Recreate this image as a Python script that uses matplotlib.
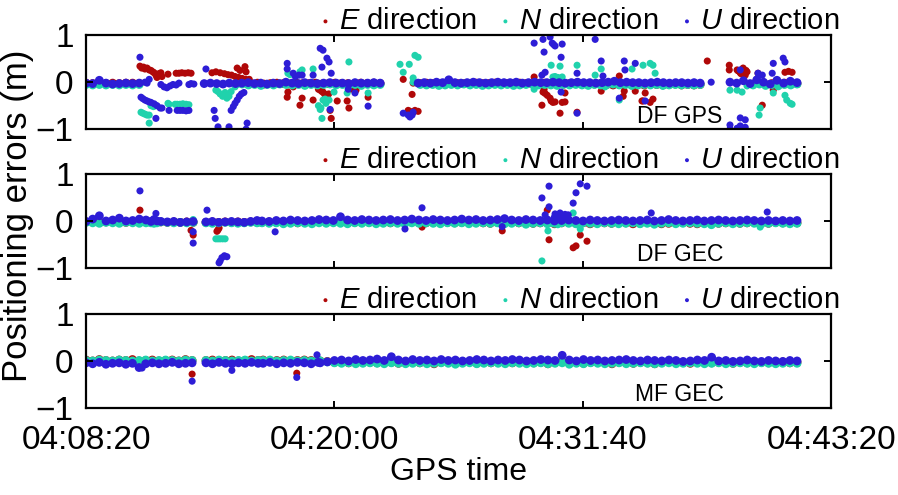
import numpy as np
import matplotlib
matplotlib.use('Agg')
import matplotlib.pyplot as plt

plt.rcParams['font.family'] = ['Liberation Sans', 'DejaVu Sans']
plt.rcParams['mathtext.fontset'] = 'custom'
plt.rcParams['mathtext.rm'] = 'Liberation Sans'
plt.rcParams['mathtext.it'] = 'Liberation Sans:italic'

# x axis: seconds after 04:08:20 GPS time
tick_secs = [0, 700, 1400, 2100]
tick_labels = ['04:08:20', '04:20:00', '04:31:40', '04:43:20']
panel_names = ['DF GPS', 'DF GEC', 'MF GEC']
directions = ['E', 'N', 'U']
colors = ['#b00808', '#20d2ac', '#2d1dd6']

# ---- DF GPS ----
# arcs = (start s, end s) of the dense band, band = values along the arc in cm
gps_E_arcs = [(0, 150), (465, 829), (942, 1731), (1880, 2004)]
gps_E_band = [[-2, -3, -2, -3, -2, -3, -2, -2, -3],
              [-3, -2, -4, -3, -2, -3, -4, -2, -3, -3, -2, -4, -3, -2, -3, -3, -4, -2, -3, -2, -3],
              [-3, -2, -3, -4, -3, -2, -3, -3, -4, -2, -3, -3, -2, -4, -3, -3, -2, -3, -4, -3, -2, -3, -3,
               -4, -3, -2, -3, -5, -4, -3, -5, -6, -5, -4, -6, -5, -6, -4, -5, -6, -5, -4, -6, -5, -6, -5],
              [-4, -2, -5, -3, -6, -2, -4, -3]]
gps_E_t = [152, 157, 162, 166, 172, 178, 183, 188, 192, 197, 200, 205, 211, 214, 231, 254, 262, 270, 279, 288, 296,
           355, 366, 378, 390, 400, 410, 420, 430, 440, 450, 460, 426, 434, 448, 451,
           567, 569, 584, 609, 603, 640, 655, 660, 665, 668, 672, 676, 679, 684, 688, 691, 708, 736, 741, 745, 761, 795,
           894, 922, 919, 908, 913, 922, 927, 936,
           1263, 1288, 1291, 1294, 1300, 1308, 1311, 1316, 1322, 1342, 1350, 1285, 1336, 1350, 1384,
           1452, 1503, 1517, 1514, 1548, 1567, 1576, 1598, 1590, 1570, 1751,
           1813, 1813, 1835, 1838, 1844, 1846, 1852, 1855, 1858, 1860, 1863, 1894, 1970, 1980, 1990, 1937, 1906]
gps_E_v = [0.34, 0.30, 0.32, 0.28, 0.30, 0.26, 0.25, 0.22, 0.20, 0.15, 0.10, 0.18, 0.20, 0.12, 0.17, 0.19, 0.19, 0.20,
           0.19, 0.20, 0.19,
           0.20, 0.22, 0.20, 0.18, 0.16, 0.15, 0.12, 0.10, 0.08, 0.06, 0.06, 0.30, 0.25, 0.33, 0.22,
           -0.32, -0.21, -0.10, -0.34, -0.49, -0.38, -0.15, -0.17, -0.20, -0.21, -0.25, -0.30, -0.28, -0.25, -0.60,
           -0.77, -0.40, -0.40, -0.55, -0.15, -0.17, -0.32,
           0.06, -0.02, -0.26, -0.60, -0.62, -0.64, -0.60, -0.62,
           0.11, -0.21, -0.15, -0.24, -0.28, -0.34, -0.40, -0.43, -0.42, -0.43, -0.42, -0.49, -0.66, -0.23, -0.64,
           -0.19, 0.13, -0.19, -0.30, -0.19, -0.40, -0.23, -0.36, -0.43, -0.40, 0.45,
           0.36, 0.26, 0.26, 0.24, 0.20, 0.18, 0.30, 0.17, 0.15, 0.25, 0.22, 0.19, 0.21, 0.23, 0.21, -0.17, -0.49]

gps_N_arcs = [(0, 150), (440, 829), (942, 1731), (1880, 2004)]
gps_N_band = [[-5, -6, -5, -6, -5, -6, -5, -6, -5],
              [-4, -6, -5, -7, -5, -6, -4, -5, -6, -5, -7, -5, -6, -5, -4, -6, -5, -6, -5, -7, -5, -6, -5],
              [-5, -6, -5, -7, -6, -5, -6, -4, -6, -5, -7, -6, -5, -6, -5, -7, -6, -5, -4, -6, -5, -6, -7,
               -5, -6, -5, -6, -7, -5, -6, -5, -4, -6, -5, -7, -6, -5, -6, -5, -7, -6, -5, -6, -5, -6, -5],
              [-6, -4, -7, -5, -8, -5, -6, -4]]
gps_N_t = [155, 160, 166, 172, 178, 178, 183, 190, 197, 231, 234, 251, 257, 265, 273, 282, 290,
           366, 372, 378, 385, 392, 397, 403, 409, 420, 426, 434,
           569, 575, 603, 609, 640, 741, 699, 655, 662, 668, 674, 676, 685, 660, 665, 736, 795,
           885, 911, 927, 936, 894, 922, 922,
           1311, 1336, 1384, 1263, 1316, 1322, 1330, 1342,
           1452, 1435, 1539, 1503, 1463,
           1570, 1590, 1598, 1604, 1815, 1835, 1849, 1863, 1937, 1970, 1975, 1985, 1990, 1900, 1897]
gps_N_v = [-0.64, -0.66, -0.68, -0.70, -0.70, -0.87, -0.50, -0.52, -0.50, -0.45, -0.47, -0.47, -0.47, -0.47, -0.46,
           -0.47, -0.48,
           -0.17, -0.20, -0.25, -0.30, -0.22, -0.34, -0.30, -0.20, -0.10, -0.05, -0.03,
           0.19, 0.16, 0.22, 0.26, 0.28, 0.43, -0.21, -0.50, -0.55, -0.38, -0.36, -0.45, -0.38, -0.58, -0.77,
           -0.23, -0.23,
           0.38, 0.38, 0.57, 0.53, 0.21, 0.09, 0.00,
           0.36, 0.34, 0.36, -0.15, 0.11, 0.12, 0.10, 0.11,
           0.28, 0.15, 0.28, -0.38, -0.10,
           0.36, 0.40, 0.36, 0.19, -0.17, -0.17, -0.21, -0.08, -0.23, -0.28, -0.38, -0.45, -0.47, -0.55, -0.70]

gps_U_arcs = [(0, 150), (333, 829), (936, 1731), (1815, 2004)]
gps_U_band = [[-2, -3, 4, -2, -4, -3, -2, -3, -2],
              [-3, -2, -3, -4, -2, -3, -2, -1, -3, -2, -4, -2, -3, 0, -2, -3, -1, -2, -3, -2, -1, -2, -2, -3,
               -1, -2, -2, -1, -2],
              [-2, -1, -2, 0, -1, 5, -1, -2, -1, 0, -1, -2, -1, 0, -1, -1, 0, -2, -1, 0, -1, -1, 0, -1, -2,
               -1, 0, -1, -1, -2, -1, 0, 2, -1, 0, -1, -1, -2, -1, 0, -1, -2, -1, -1, -2, -1, -2],
              [0, -2, 3, -3, 5, 0, -4, 4, -2, 2, -1]]
gps_U_t = [152, 178, 155, 160, 166, 172, 178, 183, 192, 200, 209, 214, 234, 257, 265, 273, 282, 290, 197,
           166, 172, 211, 220, 228, 237, 245, 254, 262, 290, 296, 304,
           338, 361, 364, 372, 403, 409, 415, 420, 426, 432, 438, 445, 454, 451,
           567, 567, 584, 590, 600, 609, 640, 660, 668, 679, 685, 665, 691, 739, 758, 688, 795,
           894, 908, 913, 919, 922,
           1263, 1288, 1308, 1314, 1318, 1322, 1342, 1291, 1339, 1294, 1285, 1339, 1384, 1384, 1435,
           1452, 1517, 1548, 1457, 1503, 1519,
           1576, 1762, 1844, 1894, 1906, 1934, 1937, 1965, 1970, 1815, 1815, 1835, 1844, 1858, 1844, 1858]
gps_U_v = [0.53, 0.06, -0.32, -0.35, -0.38, -0.40, -0.42, -0.43, -0.46, -0.50, -0.55, -0.55, -0.60, -0.60, -0.60,
           -0.60, -0.61, -0.60, -0.77,
           0.00, -0.02, -0.05, -0.10, -0.12, -0.08, -0.05, -0.06, -0.02, -0.05, -0.03, -0.04,
           0.28, -0.60, -0.77, -0.95, -0.95, -0.60, -0.52, -0.45, -0.38, -0.30, -0.25, -0.22, -0.87, -1.00,
           0.40, 0.28, 0.19, 0.12, 0.15, 0.15, 0.15, 0.72, 0.68, 0.51, 0.43, 0.32, 0.19, -0.15, -0.23, -0.58, -0.51,
           -0.66, -0.70, -0.74, -0.70, -0.64,
           0.83, 0.91, 0.96, 0.83, 0.80, 0.77, 0.81, 0.64, 0.53, 0.21, 0.15, -0.21, 0.19, -0.66, 0.91,
           0.45, 0.45, 0.40, 0.13, -0.34, 0.26,
           -0.40, 0.00, 0.26, 0.19, 0.15, 0.19, 0.40, 0.51, 0.43, -0.91, -1.00, -0.98, -0.76, -0.80, -0.93, -0.96]

# ---- DF GEC ----
gec_arcs = [(0, 169), (183, 200), (211, 302), (338, 482), (496, 2004)]
gec_E_band = [[-2, -1, -3, -2, -1, -2, -3, -2, -1, -2],
              [-2, -1, -2],
              [-2, -3, -2, -3, -2, -3],
              [-3, -2, -3, -2, -3, -2, -3, -2, -3],
              [-3, -2, -3, -2, -3, -4, -2, -3, -2, -3, -2, -3, -4, -3, -2, -3, -2, -3, -4, -2, -3, -2, -3, -4,
               -3, -2, -3, -4, -3, -2, -3, -4, -5, -3, -2, -3, -4, -3, -5, -4, -3, -6, -4, -3, -5, -4, -6, -3,
               -4, -5, -3, -4, -6, -5, -3, -4, -6, -5, -4, -3, -5, -6, -4, -3, -5, -4, -3, -5, -4, -3, -4, -5,
               -3, -4, -3, -4]]
gec_E_t = [152, 302, 296, 369, 372, 375, 1173, 947, 1300, 1305, 1373, 1381, 1393, 1412, 1415, 1596]
gec_E_v = [0.23, -0.30, -0.20, -0.22, -0.19, -0.15, -0.21, -0.13, 0.23, -0.40, -0.57, -0.53, -0.30, -0.43,
           -0.05, -0.05]

gec_N_band = [[-3, -4, -5, -3, -4, -5, -3, -4, -5, -4],
              [-4, -5, -4],
              [-2, -3, -4, -3, -4, -3],
              [-4, -5, -4, -3, -4, -5, -4, -3, -4],
              [-4, -5, -4, -6, -5, -4, -5, -6, -4, -5, -4, -5, -6, -4, -5, -4, -6, -5, -4, -5, -6, -4, -5, -4,
               -5, -6, -4, -5, -4, -6, -5, -4, -5, -4, -6, -5, -4, -7, -5, -4, -6, -5, -4, -5, -6, -4, -5, -6,
               -4, -5, -6, -5, -4, -6, -5, -7, -5, -4, -6, -5, -4, -5, -6, -8, -5, -4, -6, -5, -4, -5, -6, -5,
               -4, -5, -6, -5]]
gec_N_t = [302, 366, 372, 378, 385, 392, 1285, 1302, 1373, 1393, 1359, 1310, 1330, 1900]
gec_N_v = [0.03, -0.38, -0.38, -0.38, -0.38, -0.38, -0.85, -0.21, 0.17, -0.17, -0.05, -0.05, -0.08, -0.13]

gec_U_band = [[-1, 4, 11, 0, 2, 6, 0, 1, 4, 2],
              [-1, 3, 0],
              [-1, -2, -1, -3, -2, -1],
              [-2, -1, -3, -2, -1, -2, -3, -1, 1],
              [0, -1, 1, 0, 2, 1, 0, 1, 3, 2, 1, 9, 2, 1, 3, 2, 1, 2, 3, 1, 2, 4, 2, 1, 3, 2, 1, 2, 4, 2, 3, 1,
               2, 3, 5, 2, 1, 3, 2, 1, 2, 0, 1, 2, 1, 0, 2, 1, 0, 1, 2, 1, 0, 1, 2, 0, 1, 3, 1, 0, 1, 2, 0, 1,
               2, 1, 0, 1, 2, 1, 0, 1, 0, 1, 0, 1]]
gec_U_t = [152, 197, 341, 302, 302, 375, 378, 383, 390, 397, 533, 899, 947, 1173,
           1305, 1285, 1305, 1393, 1412, 1381, 1373, 1294, 1320, 1322, 1330, 1336, 1342, 1345, 1350, 1359, 1593, 1920]
gec_U_v = [0.64, 0.16, 0.23, -0.23, -0.47, -0.89, -0.85, -0.78, -0.74, -0.76, -0.23, -0.17, 0.28, -0.12,
           0.74, 0.49, 0.30, 0.79, 0.74, 0.60, 0.38, 0.13, 0.08, 0.15, 0.12, 0.17, 0.10, 0.05, 0.14, 0.13, 0.17, 0.19]

# ---- MF GEC ----
mf_arcs = [(0, 299), (338, 485), (499, 654), (660, 2004)]
mf_E_band = [[2, 0, 3, 1, 0, 2, 1, 3, 0, 1, 2, 0, 1, 2, 0, 3, 1],
             [1, 2, 0, 1, 2, 0, 1, 3, 1],
             [2, 0, 1, 2, 0, 1, 2, 1, 0],
             [0, -1, -3, -2, -4, -3, -2, -3, -4, -2, -3, -5, -3, -2, -4, -3, -6, -3, -2, -4, -3, -2, -5, -3,
              -4, -2, -3, -4, -3, -2, -4, -3, -6, -3, -2, -4, -3, -5, -3, -2, -4, -6, -3, -2, -5, -3, -4, -6,
              -3, -2, -4, -3, -5, -3, -2, -4, -3, -2, -5, -3, -4, -2, -3, -4, -3, -2, -4, -3]]
mf_E_t = [299, 594]
mf_E_v = [-0.28, -0.26]

mf_N_band = [[1, 0, 2, 1, 0, 2, 1, 0, 1, 2, 0, 1, 2, 1, 0, 2, 1],
             [1, 0, 2, 1, 0, 1, 2, 0, 1],
             [1, 2, 0, 1, 2, 0, 1, 0, 2],
             [0, -2, -4, -5, -4, -6, -5, -4, -5, -6, -4, -5, -6, -5, -4, -6, -5, -4, -5, -7, -5, -4, -6, -5,
              -4, -5, -6, -4, -5, -6, -5, -4, -6, -5, -4, -7, -5, -6, -4, -5, -6, -5, -4, -6, -5, -4, -5, -6,
              -5, -4, -6, -5, -4, -5, -6, -5, -4, -6, -5, -4, -5, -6, -4, -5, -6, -5, -4, -5]]
mf_N_t = []
mf_N_v = []

mf_U_band = [[-4, -6, -3, -7, -5, -4, -7, -5, -14, -6, -4, -6, -5, -3, -6, -5, -4],
             [-4, -6, -3, -5, -6, -4, -5, -3, -5],
             [-5, -3, -6, -4, -5, -3, -4, -6, -3],
             [-4, -2, 1, 2, 0, 3, 1, 2, 4, 1, 9, 2, 0, 3, 1, 2, 0, 3, 1, 2, 0, 1, 3, 2, 0, 2, 1, 3, 2, 0, 1,
              3, 2, 1, 12, 2, 0, 3, 1, 2, 0, 1, 2, 3, 1, 0, 2, 1, 0, 2, 1, -1, 0, 2, 1, 8, 0, 1, -1, 0, 2, 0,
              -1, 1, 0, -1, 1, 0]]
mf_U_t = [158, 299, 411, 594, 651]
mf_U_v = [-0.15, -0.43, -0.20, -0.35, 0.13]

panels = [
    [(gps_E_arcs, gps_E_band, gps_E_t, gps_E_v),
     (gps_N_arcs, gps_N_band, gps_N_t, gps_N_v),
     (gps_U_arcs, gps_U_band, gps_U_t, gps_U_v)],
    [(gec_arcs, gec_E_band, gec_E_t, gec_E_v),
     (gec_arcs, gec_N_band, gec_N_t, gec_N_v),
     (gec_arcs, gec_U_band, gec_U_t, gec_U_v)],
    [(mf_arcs, mf_E_band, mf_E_t, mf_E_v),
     (mf_arcs, mf_N_band, mf_N_t, mf_N_v),
     (mf_arcs, mf_U_band, mf_U_t, mf_U_v)],
]


def band_points(arcs, band):
    # spread each arc's band values over its time span
    t, v = [], []
    for (t0, t1), vals in zip(arcs, band):
        t.extend(np.linspace(t0, t1, len(vals)))
        v.extend(np.array(vals) / 100.0)
    return np.array(t), np.array(v)


fig = plt.figure(figsize=(8.98, 4.95), dpi=100)
bottoms = [0.739, 0.4586, 0.1758]

for i, (bottom, series) in enumerate(zip(bottoms, panels)):
    ax = fig.add_axes([0.0958, bottom, 0.8297, 0.190])
    for d, (arcs, band, t_out, v_out), c in zip(directions, series, colors):
        t, v = band_points(arcs, band)
        ax.scatter(t, v, s=40, color=c, edgecolors='none', label=r'$%s$ direction' % d)
        ax.scatter(t_out, v_out, s=26, color=c, edgecolors='none')

    ax.set_xlim(0, 2100)
    ax.set_ylim(-1, 1)
    ax.set_xticks(tick_secs)
    ax.set_yticks([-1, 0, 1])
    ax.tick_params(direction='in', top=True, right=True, length=5, width=1.4, pad=9, labelsize=24)
    ax.tick_params(axis='x', pad=12)
    for sp in ax.spines.values():
        sp.set_linewidth(1.6)
    if i == 2:
        ax.set_xticklabels(tick_labels)
        ax.set_xlabel('GPS time', fontsize=23, labelpad=1)
    else:
        ax.set_xticklabels([])

    ax.text(0.797, 0.14, panel_names[i], transform=ax.transAxes, ha='center', va='center', fontsize=16.5)
    ax.legend(loc='lower right', bbox_to_anchor=(1.015, 0.97), ncol=3, frameon=False, fontsize=21,
              handletextpad=0.2, columnspacing=0.75, handlelength=0.5, borderaxespad=0, borderpad=0.1,
              markerscale=0.45)

fig.text(0.019, 0.565, 'Positioning errors (m)', rotation=90, ha='center', va='center', fontsize=25)

fig.savefig('out.png', dpi=100)
